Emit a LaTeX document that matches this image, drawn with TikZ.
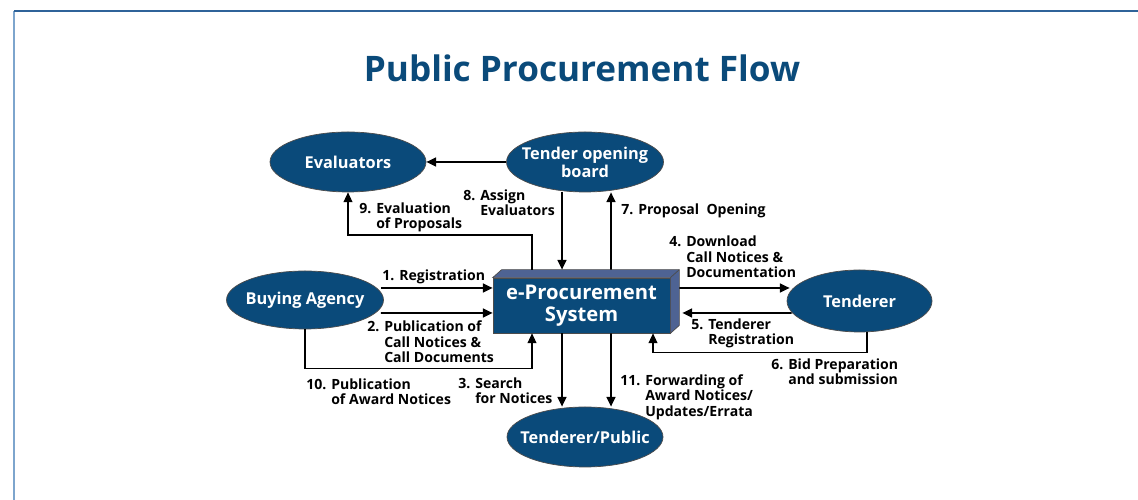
\documentclass[tikz,border=0pt]{standalone}
\usepackage{fontspec}
\setmainfont{Open Sans}
\usepackage{tikz}
\usetikzlibrary{shapes,arrows,positioning,calc,arrows.meta}

\definecolor{pnavy}{RGB}{10,74,122}
\definecolor{pslate}{RGB}{78,99,147}
\definecolor{pframe}{RGB}{47,99,153}
\definecolor{pframelt}{RGB}{125,165,205}

\tikzset{
  actor/.style={ellipse, fill=pnavy, draw=black!70, line width=0.4pt, text=white,
    font=\fontsize{9.3}{10.3}\selectfont\bfseries, align=center, inner xsep=-6pt, inner ysep=0pt},
  flow/.style={-{Triangle[length=5.5pt,width=5pt]}, line width=1pt},
  thinflow/.style={-{Triangle[length=5.5pt,width=5pt]}, line width=0.6pt},
  lbl/.style={anchor=west, align=left, font=\fontsize{8}{8.8}\selectfont\bfseries, inner sep=0pt},
}

\begin{document}
\begin{tikzpicture}
    \useasboundingbox (0,0) rectangle (22.76,10);
    % frame
    \draw[pframelt, line width=1.2pt] (0.28,0) -- (0.28,9.78);
    \draw[pframe, line width=1.2pt] (0.28,9.78) -- (22.76,9.78);

    \node[font=\fontsize{20}{24}\selectfont\bfseries, text=pnavy] (title) at (11.64,8.64) {Public Procurement Flow};

    % actors
    \node[actor, minimum width=3.12cm, minimum height=1.2cm] (evaluators) at (6.96,6.76) {Evaluators};
    \node[actor, minimum width=3.14cm, minimum height=1.2cm] (board) at (11.7,6.76) {Tender opening\\board};
    \node[actor, minimum width=3.14cm, minimum height=1.16cm] (agency) at (6.1,4.0) {Buying Agency};
    \node[actor, minimum width=2.9cm, minimum height=1.24cm] (tenderer) at (17.19,3.98) {Tenderer};
    \node[actor, minimum width=3.12cm, minimum height=1.2cm] (public) at (11.7,1.26) {Tenderer/Public};

    % the system box
    \node[fill=pnavy, draw=black!70, line width=0.4pt, text=white, align=center, inner sep=0pt,
      font=\fontsize{11.5}{12.5}\selectfont\bfseries, minimum width=3.54cm, minimum height=1.1cm] (system) at (11.63,3.89) {e-Procurement\\System};
    \draw[fill=pslate, draw=black!70, line width=0.4pt] (system.north west) -- ++(0.18,0.16)
      -- ($(system.north east)+(0.18,0.16)$) -- ($(system.south east)+(0.18,0.16)$)
      -- (system.south east) -- (system.north east) -- cycle;
    \draw[black!70, line width=0.4pt] (system.north east) -- ++(0.18,0.16);

    % connectors
    \draw[flow] ($(agency.east)+(-0.06,0.24)$) -- (system.west |- 0,4.24);
    \draw[flow] ($(agency.east)+(-0.06,-0.26)$) -- (system.west |- 0,3.74);
    \draw[flow] ($(system.east)+(0.18,0.35)$) -- ($(tenderer.west)+(0.06,0.26)$);
    \draw[flow] ($(tenderer.west)+(0.1,-0.24)$) -- ($(system.east)+(0.24,-0.15)$);
    \draw[flow] (board.west) -- (evaluators.east);
    \draw[flow] (board.south -| 11.24,0) -- ($(system.north)+(-0.39,0.16)$);
    \draw[flow] ($(system.north)+(0.59,0.16)$) -- (board.south -| 12.22,0);
    \draw[thinflow] ($(system.north)+(-0.99,0.16)$) |- (evaluators.south |- 0,5.3) -- (evaluators.south);
    \draw[flow] ($(system.south)+(-0.39,0)$) -- (public.north -| 11.24,0);
    \draw[flow] ($(system.south)+(0.59,0)$) -- (public.north -| 12.22,0);
    \draw[thinflow] (agency.south) |- ($(system.south)+(-0.99,-0.7)$) -- ($(system.south)+(-0.99,0)$);
    \draw[thinflow] (tenderer.south -| 17.34,0) |- ($(system.south)+(1.43,-0.38)$) -- ($(system.south)+(1.43,0)$);

    % labels
    \node[lbl] (lab1) at (7.64,4.46) {1. Registration};
    \node[lbl] (lab2) at (7.34,3.16) {2. Publication of\\\hphantom{2. }Call Notices \&\\\hphantom{2. }Call Documents};
    \node[lbl] (lab3) at (9.16,2.19) {3. Search\\\hphantom{3. }for Notices};
    \node[lbl] (lab4) at (13.38,4.86) {4. Download\\\hphantom{4. }Call Notices \&\\\hphantom{4. }Documentation};
    \node[lbl] (lab5) at (13.82,3.33) {5. Tenderer\\\hphantom{5. }Registration};
    \node[lbl] (lab6) at (15.42,2.56) {6. Bid Preparation\\\hphantom{6. }and submission};
    \node[lbl] (lab7) at (12.42,5.78) {7. Proposal\ \ Opening};
    \node[lbl] (lab8) at (9.26,5.95) {8. Assign\\\hphantom{8. }Evaluators};
    \node[lbl] (lab9) at (7.18,5.65) {9. Evaluation\\\hphantom{9. }of Proposals};
    \node[lbl] (lab10) at (6.12,2.17) {10. Publication\\\hphantom{10. }of Award Notices};
    \node[lbl] (lab11) at (12.4,2.06) {11. Forwarding of\\\hphantom{11. }Award Notices/\\\hphantom{11. }Updates/Errata};
\end{tikzpicture}
\end{document}
